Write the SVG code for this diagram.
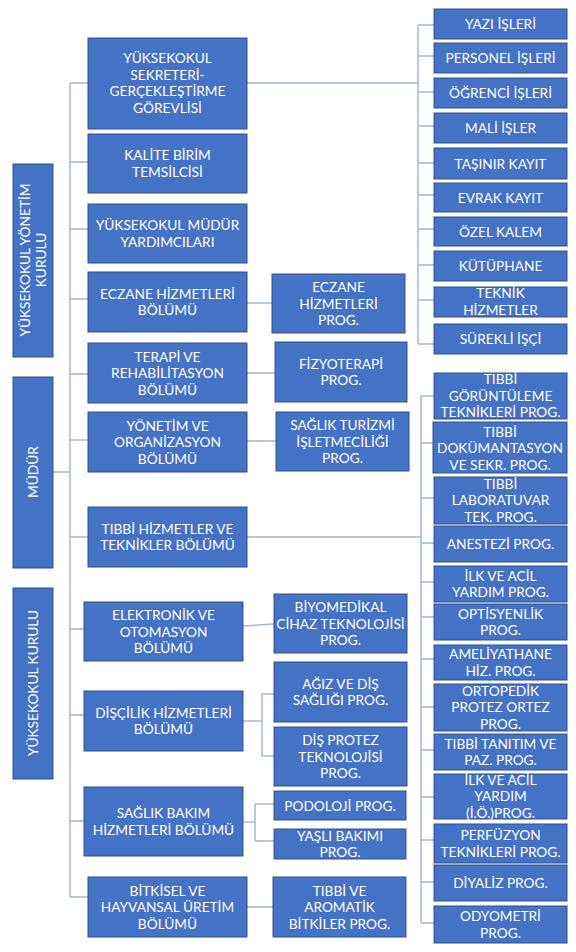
<svg xmlns="http://www.w3.org/2000/svg" width="576" height="952" viewBox="0 0 576 952">
<style>
.b{fill:#4472C4;stroke:#2F528F;stroke-width:1}
.t{fill:#FFFFFF;font-family:Lato,"Open Sans","Liberation Sans",sans-serif;font-size:13.7px;text-anchor:middle}
.c{fill:none;stroke:#A7B7D2;stroke-width:1.5}
</style>
<rect width="576" height="952" fill="#FFFFFF"/>
<g id="connectors" class="c">
<path d="M70,83V897M53,472H70M70,83H88M70,162H88M70,229H88M70,299H88M70,374H88M70,440H88M70,537H88M70,629H84M70,715H84M70,821H84M70,897H88"/>
<path d="M247,83H418M418,25V344M418,25H434M418,56H434M418,92H434M418,126H434M418,163H434M418,195H434M418,229H434M418,265H434M418,300H434M418,344H434"/>
<path d="M247,303H272M247,373H275M247,441H276M243,626L274,624M243,721H262M262,694V756M262,694H274M262,756H274M243,822H255M255,804V841M255,804H274M255,841H274M247,907H273"/>
<path d="M247,537H421M421,396V923M421,396H434M421,443H433M421,498H434M421,543H434M421,582H434M421,617H434M421,659H434M421,707H434M421,750H434M421,797H434M421,840H434M421,882H434M421,923H434"/>
</g>
<g id="yonetim-kurulu"><rect class="b" x="13" y="164" width="40" height="193"/><g transform="translate(33,260) rotate(-90)"><text class="t" x="0" y="-3.3">YÜKSEKOKUL YÖNETİM</text><text class="t" x="0" y="13.3">KURULU</text></g></g>
<g id="mudur"><rect class="b" x="13" y="377" width="40" height="191"/><text class="t" transform="translate(38,472) rotate(-90)" x="0" y="0">MÜDÜR</text></g>
<g id="yuksekokul-kurulu"><rect class="b" x="13" y="588" width="40" height="191"/><text class="t" transform="translate(38,683) rotate(-90)" x="0" y="0">YÜKSEKOKUL KURULU</text></g>

<g id="m1"><rect class="b" x="88" y="38" width="159" height="91"/><text class="t"><tspan x="167.5" y="63">YÜKSEKOKUL</tspan><tspan x="167.5" y="79.5">SEKRETERİ-</tspan><tspan x="167.5" y="96">GERÇEKLEŞTİRME</tspan><tspan x="167.5" y="112.5">GÖREVLİSİ</tspan></text></g>
<g id="m2"><rect class="b" x="88" y="134" width="159" height="59"/><text class="t"><tspan x="167.5" y="160.3">KALİTE BİRİM</tspan><tspan x="167.5" y="176.8">TEMSİLCİSİ</tspan></text></g>
<g id="m3"><rect class="b" x="88" y="204" width="159" height="59"/><text class="t"><tspan x="167.5" y="230.3">YÜKSEKOKUL MÜDÜR</tspan><tspan x="167.5" y="246.8">YARDIMCILARI</tspan></text></g>
<g id="m4"><rect class="b" x="88" y="272" width="159" height="60"/><text class="t"><tspan x="167.5" y="298.8">ECZANE HİZMETLERİ</tspan><tspan x="167.5" y="315.3">BÖLÜMÜ</tspan></text></g>
<g id="m5"><rect class="b" x="88" y="343" width="159" height="60"/><text class="t"><tspan x="167.5" y="361.5">TERAPİ VE</tspan><tspan x="167.5" y="378">REHABİLİTASYON</tspan><tspan x="167.5" y="394.5">BÖLÜMÜ</tspan></text></g>
<g id="m6"><rect class="b" x="88" y="412" width="159" height="60"/><text class="t"><tspan x="167.5" y="430.5">YÖNETİM VE</tspan><tspan x="167.5" y="447">ORGANİZASYON</tspan><tspan x="167.5" y="463.5">BÖLÜMÜ</tspan></text></g>
<g id="m7"><rect class="b" x="88" y="507" width="159" height="60"/><text class="t"><tspan x="167.5" y="533.8">TIBBİ HİZMETLER VE</tspan><tspan x="167.5" y="550.3">TEKNİKLER BÖLÜMÜ</tspan></text></g>
<g id="m8"><rect class="b" x="84" y="602" width="159" height="59"/><text class="t"><tspan x="163.5" y="620">ELEKTRONİK VE</tspan><tspan x="163.5" y="636.5">OTOMASYON</tspan><tspan x="163.5" y="653">BÖLÜMÜ</tspan></text></g>
<g id="m9"><rect class="b" x="84" y="691" width="159" height="60"/><text class="t"><tspan x="163.5" y="717.8">DİŞÇİLİK HİZMETLERİ</tspan><tspan x="163.5" y="734.3">BÖLÜMÜ</tspan></text></g>
<g id="m10"><rect class="b" x="84" y="787" width="159" height="69"/><text class="t"><tspan x="163.5" y="818.3">SAĞLIK BAKIM</tspan><tspan x="163.5" y="834.8">HİZMETLERİ BÖLÜMÜ</tspan></text></g>
<g id="m11"><rect class="b" x="88" y="877" width="159" height="60"/><text class="t"><tspan x="167.5" y="895.5">BİTKİSEL VE</tspan><tspan x="167.5" y="912">HAYVANSAL ÜRETİM</tspan><tspan x="167.5" y="928.5">BÖLÜMÜ</tspan></text></g>

<g id="p1"><rect class="b" x="272" y="274" width="133" height="59"/><text class="t"><tspan x="338.5" y="292">ECZANE</tspan><tspan x="338.5" y="308.5">HİZMETLERİ</tspan><tspan x="338.5" y="325">PROG.</tspan></text></g>
<g id="p2"><rect class="b" x="275" y="342" width="132" height="60"/><text class="t"><tspan x="341" y="368.8">FİZYOTERAPİ</tspan><tspan x="341" y="385.3">PROG.</tspan></text></g>
<g id="p3"><rect class="b" x="276" y="412" width="133" height="59"/><text class="t"><tspan x="342.5" y="430">SAĞLIK TURİZMİ</tspan><tspan x="342.5" y="446.5">İŞLETMECİLİĞİ</tspan><tspan x="342.5" y="463">PROG.</tspan></text></g>
<g id="p4"><rect class="b" x="274" y="594" width="133" height="59"/><text class="t"><tspan x="340.5" y="612">BİYOMEDİKAL</tspan><tspan x="340.5" y="628.5">CİHAZ TEKNOLOJİSİ</tspan><tspan x="340.5" y="645">PROG.</tspan></text></g>
<g id="p5"><rect class="b" x="274" y="662" width="133" height="60"/><text class="t"><tspan x="340.5" y="688.8">AĞIZ VE DİŞ</tspan><tspan x="340.5" y="705.3">SAĞLIĞI PROG.</tspan></text></g>
<g id="p6"><rect class="b" x="274" y="727" width="133" height="59"/><text class="t"><tspan x="340.5" y="745">DİŞ PROTEZ</tspan><tspan x="340.5" y="761.5">TEKNOLOJİSİ</tspan><tspan x="340.5" y="778">PROG.</tspan></text></g>
<g id="p7"><rect class="b" x="274" y="791" width="132" height="29"/><text class="t" x="340" y="810.5">PODOLOJİ PROG.</text></g>
<g id="p8"><rect class="b" x="274" y="829" width="132" height="30"/><text class="t"><tspan x="340" y="840.8">YAŞLI BAKIMI</tspan><tspan x="340" y="857.3">PROG.</tspan></text></g>
<g id="p9"><rect class="b" x="273" y="877" width="133" height="60"/><text class="t"><tspan x="339.5" y="895.5">TIBBİ VE</tspan><tspan x="339.5" y="912">AROMATİK</tspan><tspan x="339.5" y="928.5">BİTKİLER PROG.</tspan></text></g>

<g id="a1"><rect class="b" x="434" y="9" width="133" height="30"/><text class="t" x="500.5" y="29">YAZI İŞLERİ</text></g>
<g id="a2"><rect class="b" x="434" y="43" width="133" height="30"/><text class="t" x="500.5" y="63">PERSONEL İŞLERİ</text></g>
<g id="a3"><rect class="b" x="434" y="78" width="133" height="30"/><text class="t" x="500.5" y="98">ÖĞRENCİ İŞLERİ</text></g>
<g id="a4"><rect class="b" x="434" y="113" width="133" height="30"/><text class="t" x="500.5" y="133">MALİ İŞLER</text></g>
<g id="a5"><rect class="b" x="434" y="148" width="133" height="31"/><text class="t" x="500.5" y="168.5">TAŞINIR KAYIT</text></g>
<g id="a6"><rect class="b" x="434" y="183" width="133" height="29"/><text class="t" x="500.5" y="202.5">EVRAK KAYIT</text></g>
<g id="a7"><rect class="b" x="434" y="217" width="133" height="29"/><text class="t" x="500.5" y="236.5">ÖZEL KALEM</text></g>
<g id="a8"><rect class="b" x="434" y="251" width="133" height="30"/><text class="t" x="500.5" y="271">KÜTÜPHANE</text></g>
<g id="a9"><rect class="b" x="434" y="287" width="133" height="30"/><text class="t"><tspan x="500.5" y="298.3">TEKNİK</tspan><tspan x="500.5" y="314.8">HİZMETLER</tspan></text></g>
<g id="a10"><rect class="b" x="434" y="324" width="133" height="30"/><text class="t" x="500.5" y="344">SÜREKLİ İŞÇİ</text></g>

<g id="t1"><rect class="b" x="434" y="373" width="133" height="46"/><text class="t"><tspan x="500.5" y="384">TIBBİ</tspan><tspan x="500.5" y="400.5">GÖRÜNTÜLEME</tspan><tspan x="500.5" y="417">TEKNİKLERİ PROG.</tspan></text></g>
<g id="t2"><rect class="b" x="433" y="422" width="134" height="51"/><text class="t"><tspan x="500" y="436.5">TIBBİ</tspan><tspan x="500" y="453">DOKÜMANTASYON</tspan><tspan x="500" y="469.5">VE SEKR. PROG.</tspan></text></g>
<g id="t3"><rect class="b" x="434" y="477" width="133" height="47"/><text class="t"><tspan x="500.5" y="488.5">TIBBİ</tspan><tspan x="500.5" y="505">LABORATUVAR</tspan><tspan x="500.5" y="521.5">TEK. PROG.</tspan></text></g>
<g id="t4"><rect class="b" x="434" y="526" width="133" height="36"/><text class="t" x="500.5" y="549">ANESTEZİ PROG.</text></g>
<g id="t5"><rect class="b" x="434" y="566" width="133" height="36"/><text class="t"><tspan x="500.5" y="580.8">İLK VE ACİL</tspan><tspan x="500.5" y="597.3">YARDIM PROG.</tspan></text></g>
<g id="t6"><rect class="b" x="434" y="604" width="133" height="36"/><text class="t"><tspan x="500.5" y="618.8">OPTİSYENLİK</tspan><tspan x="500.5" y="635.3">PROG.</tspan></text></g>
<g id="t7"><rect class="b" x="434" y="645" width="133" height="35"/><text class="t"><tspan x="500.5" y="659.3">AMELİYATHANE</tspan><tspan x="500.5" y="675.8">HİZ. PROG.</tspan></text></g>
<g id="t8"><rect class="b" x="434" y="684" width="133" height="47"/><text class="t"><tspan x="500.5" y="695.5">ORTOPEDİK</tspan><tspan x="500.5" y="712">PROTEZ ORTEZ</tspan><tspan x="500.5" y="728.5">PROG.</tspan></text></g>
<g id="t9"><rect class="b" x="434" y="734" width="133" height="36"/><text class="t"><tspan x="500.5" y="748.8">TIBBİ TANITIM VE</tspan><tspan x="500.5" y="765.3">PAZ. PROG.</tspan></text></g>
<g id="t10"><rect class="b" x="434" y="774" width="133" height="45"/><text class="t"><tspan x="500.5" y="784.5">İLK VE ACİL</tspan><tspan x="500.5" y="801">YARDIM</tspan><tspan x="500.5" y="817.5">(İ.Ö.)PROG.</tspan></text></g>
<g id="t11"><rect class="b" x="434" y="824" width="133" height="39"/><text class="t"><tspan x="500.5" y="840.3">PERFÜZYON</tspan><tspan x="500.5" y="856.8">TEKNİKLERİ PROG.</tspan></text></g>
<g id="t12"><rect class="b" x="434" y="865" width="133" height="36"/><text class="t" x="500.5" y="888">DİYALİZ PROG.</text></g>
<g id="t13"><rect class="b" x="434" y="906" width="133" height="37"/><text class="t"><tspan x="500.5" y="921.3">ODYOMETRİ</tspan><tspan x="500.5" y="937.8">PROG.</tspan></text></g>
</svg>
